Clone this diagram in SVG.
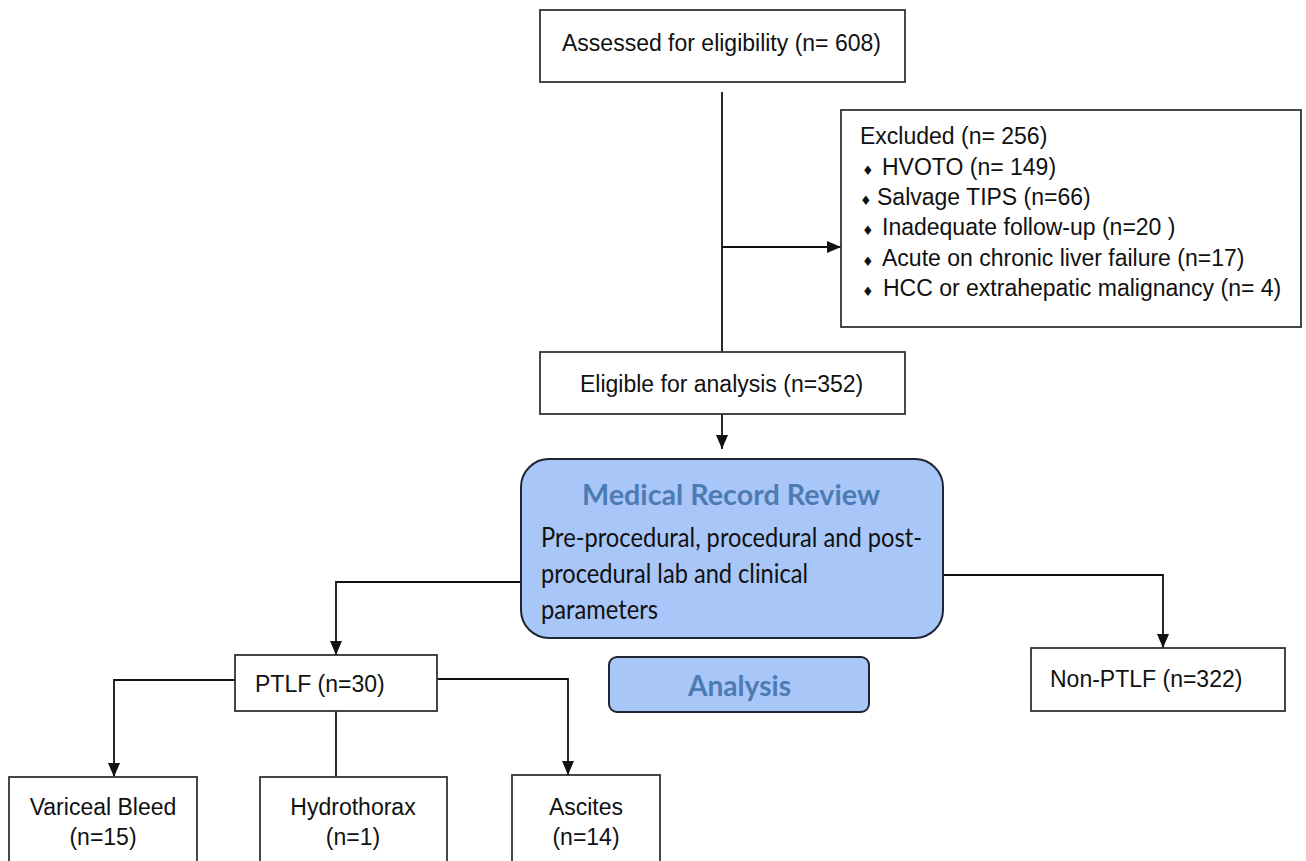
<svg xmlns="http://www.w3.org/2000/svg" width="1306" height="861" viewBox="0 0 1306 861">
<style>
.box{fill:#fff;stroke:#333;stroke-width:1.8}
.rbox{fill:#a9c6f8;stroke:#1e2633;stroke-width:2}
.t{font-family:"Liberation Sans",Arial,sans-serif;font-size:23px;fill:#111}
.c{text-anchor:middle}
.b{font-family:"DejaVu Sans",sans-serif;font-size:13px}
.title{font-family:Lato,"Open Sans",sans-serif;font-weight:bold;font-size:28px;fill:#4d7bb3}
.body{font-family:Lato,"Open Sans",sans-serif;font-size:26px;fill:#111}
.ln{fill:none;stroke:#111;stroke-width:1.8}
</style>
<defs>
<marker id="ah" markerUnits="userSpaceOnUse" markerWidth="14" markerHeight="12" refX="14" refY="6" orient="auto">
<path d="M0,0 L14,6 L0,12 z" fill="#111"/>
</marker>
<clipPath id="clipA"><rect x="600" y="650" width="280" height="51"/></clipPath>
</defs>
<rect width="1306" height="861" fill="#fff"/>
<g id="connectors">
<path class="ln" d="M722,92 V352"/>
<path class="ln" d="M722,247 H841" marker-end="url(#ah)"/>
<path class="ln" d="M722,414 V449" marker-end="url(#ah)"/>
<path class="ln" d="M521,582 H336 V655" marker-end="url(#ah)"/>
<path class="ln" d="M943,575 H1163 V648" marker-end="url(#ah)"/>
<path class="ln" d="M235,680 H114 V777" marker-end="url(#ah)"/>
<path class="ln" d="M336,711 V777"/>
<path class="ln" d="M437,679 H568 V775" marker-end="url(#ah)"/>
</g>
<g id="assessed">
<rect class="box" x="540" y="10" width="365" height="72"/>
<text class="t" x="562" y="51">Assessed for eligibility (n= 608)</text>
</g>
<g id="excluded">
<rect class="box" x="841" y="110" width="460" height="217"/>
<text class="t" x="860" y="144">Excluded (n= 256)</text>
<text class="t" x="862" y="175"><tspan class="b">♦</tspan><tspan x="882">HVOTO (n= 149)</tspan></text>
<text class="t" x="860" y="205"><tspan class="b">♦</tspan><tspan x="877">Salvage TIPS (n=66)</tspan></text>
<text class="t" x="862" y="235"><tspan class="b">♦</tspan><tspan x="882">Inadequate follow-up (n=20 )</tspan></text>
<text class="t" x="862" y="266"><tspan class="b">♦</tspan><tspan x="882">Acute on chronic liver failure (n=17)</tspan></text>
<text class="t" x="862" y="296"><tspan class="b">♦</tspan><tspan x="883">HCC or extrahepatic malignancy (n= 4)</tspan></text>
</g>
<g id="eligible">
<rect class="box" x="540" y="352" width="365" height="62"/>
<text class="t" x="580" y="392">Eligible for analysis (n=352)</text>
</g>
<g id="review">
<rect class="rbox" x="521" y="459" width="422" height="179" rx="28"/>
<text class="title" x="582" y="505" textLength="298" lengthAdjust="spacingAndGlyphs">Medical Record Review</text>
<text class="body" x="541" y="547" textLength="381" lengthAdjust="spacingAndGlyphs">Pre-procedural, procedural and post-</text>
<text class="body" x="541" y="583" textLength="267" lengthAdjust="spacingAndGlyphs">procedural lab and clinical</text>
<text class="body" x="541" y="619" textLength="117" lengthAdjust="spacingAndGlyphs">parameters</text>
</g>
<g id="ptlf">
<rect class="box" x="235" y="655" width="202" height="56"/>
<text class="t" x="255" y="692">PTLF (n=30)</text>
</g>
<g id="analysis">
<rect class="rbox" x="609" y="657" width="260" height="55" rx="8"/>
<text class="title" x="688" y="696" textLength="103" lengthAdjust="spacingAndGlyphs" clip-path="url(#clipA)">Analysis</text>
</g>
<g id="nonptlf">
<rect class="box" x="1031" y="648" width="254" height="63"/>
<text class="t" x="1050" y="687">Non-PTLF (n=322)</text>
</g>
<g id="variceal">
<rect class="box" x="9" y="777" width="188" height="110"/>
<text class="t c" x="103" y="815">Variceal Bleed</text>
<text class="t c" x="103" y="845">(n=15)</text>
</g>
<g id="hydrothorax">
<rect class="box" x="260" y="777" width="187" height="110"/>
<text class="t c" x="353" y="815">Hydrothorax</text>
<text class="t c" x="353" y="845">(n=1)</text>
</g>
<g id="ascites">
<rect class="box" x="512" y="775" width="148" height="110"/>
<text class="t c" x="586" y="815">Ascites</text>
<text class="t c" x="586" y="845">(n=14)</text>
</g>
</svg>
